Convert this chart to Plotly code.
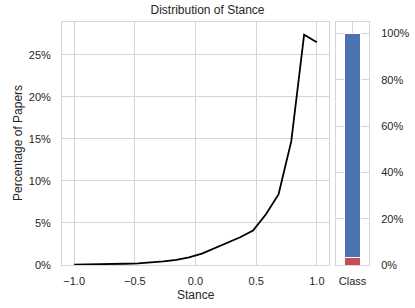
import plotly.graph_objects as go

# Data
stance = [-1.0, -0.895, -0.789, -0.684, -0.579, -0.474, -0.368, -0.263, -0.158, -0.053,
          0.053, 0.158, 0.263, 0.368, 0.474, 0.579, 0.684, 0.789, 0.895, 1.0]
pct_papers = [0.05, 0.06, 0.08, 0.1, 0.15, 0.2, 0.3, 0.42, 0.6, 0.9,
              1.35, 2.0, 2.6, 3.3, 4.1, 6.0, 8.4, 14.7, 27.4, 26.5]
class_labels = ["Class"]
class_low = [3.3]
class_high = [96.7]
x_ticks = [-1.0, -0.5, 0.0, 0.5, 1.0]
x_ticktext = ["\u22121.0", "\u22120.5", "0.0", "0.5", "1.0"]
y_ticks = [0, 5, 10, 15, 20, 25]
y_ticktext = ["0%", "5%", "10%", "15%", "20%", "25%"]
y2_ticks = [0, 20, 40, 60, 80, 100]
y2_ticktext = ["0%", "20%", "40%", "60%", "80%", "100%"]

W, H = 415, 308
font = "Liberation Sans, Arial, sans-serif"
grid = "#d5d5d5"
txt = "#262626"

fig = go.Figure()
fig.add_trace(go.Scatter(x=stance, y=pct_papers, mode="lines",
                         line=dict(color="black", width=1.8), xaxis="x", yaxis="y",
                         showlegend=False, hoverinfo="skip"))
fig.add_trace(go.Bar(x=class_labels, y=class_low, marker=dict(color="#c44e52", line=dict(color="white", width=1)),
                     width=0.48, xaxis="x2", yaxis="y2", showlegend=False))
fig.add_trace(go.Bar(x=class_labels, y=class_high, marker=dict(color="#4c72b0", line=dict(color="white", width=1)),
                     width=0.48, xaxis="x2", yaxis="y2", showlegend=False))

ax_common = dict(showline=True, linecolor=grid, linewidth=1, mirror=True,
                 showgrid=True, gridcolor=grid, gridwidth=1, zeroline=False,
                 ticks="", automargin=False,
                 tickfont=dict(size=11, color=txt, family=font))

fig.update_layout(
    width=W, height=H, barmode="stack",
    margin=dict(l=0, r=0, t=0, b=0),
    paper_bgcolor="white", plot_bgcolor="white",
    font=dict(family=font, color=txt),
    title=dict(text="Distribution of Stance", x=0.5, xanchor="center",
               y=1 - 10 / H, yanchor="middle", yref="container",
               font=dict(size=12, color=txt, family=font)),
    xaxis=dict(domain=[62 / W, 329 / W], range=[-1.1, 1.1], tickvals=x_ticks,
               ticktext=x_ticktext, ticklabelstandoff=6, anchor="y", **ax_common),
    yaxis=dict(domain=[(H - 265) / H, (H - 22) / H], range=[0, 28.9], tickvals=y_ticks,
               ticktext=y_ticktext, ticklabelstandoff=8, anchor="x", **ax_common),
    xaxis2=dict(domain=[336 / W, 369 / W], range=[-0.5, 0.5], type="category",
                ticklabelstandoff=6, anchor="y2", **ax_common),
    yaxis2=dict(domain=[(H - 265) / H, (H - 22) / H], range=[0, 105], tickvals=y2_ticks,
                ticktext=y2_ticktext, side="right", ticklabelstandoff=9, anchor="x2", **ax_common),
    annotations=[
        dict(text="Stance", x=195.5 / W, y=1 - 295 / H, xref="paper", yref="paper",
             showarrow=False, xanchor="center", yanchor="middle",
             font=dict(size=12, color=txt, family=font)),
        dict(text="Percentage of Papers", x=18 / W, y=1 - 143 / H, xref="paper", yref="paper",
             showarrow=False, xanchor="center", yanchor="middle", textangle=-90,
             font=dict(size=12, color=txt, family=font)),
    ],
)

fig.write_html("out.html", config={"displayModeBar": False},
               post_script="document.body.style.margin='0';document.body.style.padding='0';"
                           "document.body.style.overflow='hidden';")
